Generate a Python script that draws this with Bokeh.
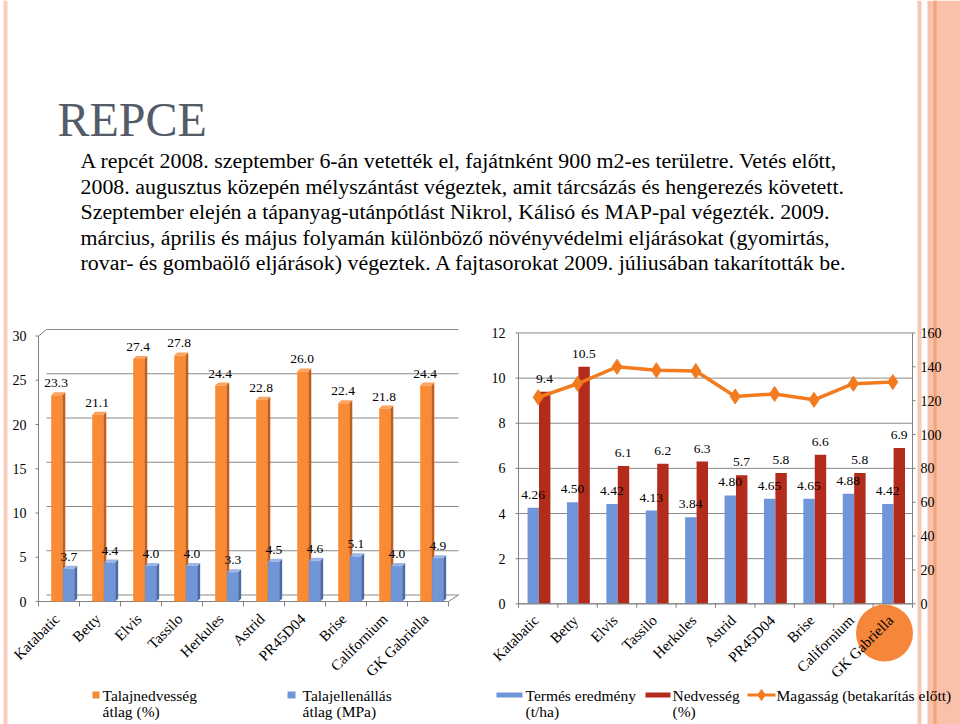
import math
from bokeh.plotting import figure
from bokeh.models import Range1d
from bokeh.embed import file_html
from bokeh.resources import INLINE
from bokeh.core.properties import value

# ---------------- data ----------------
categories = ["Katabatic", "Betty", "Elvis", "Tassilo", "Herkules", "Astrid",
              "PR45D04", "Brise", "Californium", "GK Gabriella"]
talajnedvesseg = [23.3, 21.1, 27.4, 27.8, 24.4, 22.8, 26.0, 22.4, 21.8, 24.4]
talajellenallas = [3.7, 4.4, 4.0, 4.0, 3.3, 4.5, 4.6, 5.1, 4.0, 4.9]
termes = [4.26, 4.50, 4.42, 4.13, 3.84, 4.80, 4.65, 4.65, 4.88, 4.42]
nedvesseg = [9.4, 10.5, 6.1, 6.2, 6.3, 5.7, 5.8, 6.6, 5.8, 6.9]
magassag = [122, 130, 140, 138, 137.5, 122.5, 124, 120.5, 130, 131]
left_ticks = [0, 5, 10, 15, 20, 25, 30]
right_ticks = [0, 2, 4, 6, 8, 10, 12]
right2_ticks = [0, 20, 40, 60, 80, 100, 120, 140, 160]

title = "REPCE"
body_lines = [
    "A repcét 2008. szeptember 6-án vetették el, fajátnként 900 m2-es területre. Vetés előtt,",
    "2008. augusztus közepén mélyszántást végeztek, amit tárcsázás és hengerezés követett.",
    "Szeptember elején a tápanyag-utánpótlást Nikrol, Kálisó és MAP-pal végezték. 2009.",
    "március, április és május folyamán különböző növényvédelmi eljárásokat (gyomirtás,",
    "rovar- és gombaölő eljárások) végeztek. A fajtasorokat 2009. júliusában takarították be.",
]
left_legend = [("Talajnedvesség", "átlag (%)"), ("Talajellenállás", "átlag (MPa)")]
right_legend = [("Termés eredmény", "(t/ha)"), ("Nedvesség", "(%)"),
                ("Magasság (betakarítás előtt)", "")]

# ---------------- styles ----------------
FONT = value("Liberation Serif")
ORANGE, ORANGE_SIDE, ORANGE_TOP = "#F98B35", "#C25E1C", "#FBA35F"
BLUE, BLUE_SIDE, BLUE_TOP = "#7096D8", "#4C6BA6", "#9BB6E6"
R_BLUE, R_RED, LINE_OR = "#7096D9", "#B22B1B", "#F27B20"
GRID = "#8a8a8a"
AXIS = "#808080"

W, H = 960, 724
PL, PR, PT, PB = 0, W, 0, H   # page box of the canvas


def xr(px0, ppu):
    return Range1d(start=(PL - px0) / ppu, end=(PR - px0) / ppu)


def yr(py0, ppu):
    return Range1d(start=(py0 - PB) / ppu, end=(py0 - PT) / ppu)


# left chart geometry
LX0, LXU, LY0, LYU = 38, 41.0, 601, 8.85
WDX, WDY = 8 / LXU, 6.5 / LYU          # 3D wall depth
BDX, BDY = 3 / LXU, 3 / LYU            # bar depth
# right chart geometry
RX0, RXU, RY0, RYU = 518, 39.4, 603.3, 22.57
RY2U = RYU * 12 / 160

p = figure(width=W, height=H, x_range=Range1d(PL, PR), y_range=Range1d(PB, PT),
           output_backend="svg", toolbar_location=None, min_border=0,
           x_axis_type=None, y_axis_type=None, outline_line_color=None,
           background_fill_color="white", border_fill_color="white")
p.extra_x_ranges = {"lx": xr(LX0, LXU), "rx": xr(RX0, RXU)}
p.extra_y_ranges = {"ly": yr(LY0, LYU), "ry": yr(RY0, RYU), "ry2": yr(RY0, RY2U)}
L = dict(x_range_name="lx", y_range_name="ly")
R = dict(x_range_name="rx", y_range_name="ry")
R2 = dict(x_range_name="rx", y_range_name="ry2")

n = len(categories)
idx = list(range(n))

# ---------------- decorations ----------------
p.quad(left=[3], right=[7], bottom=[PB], top=[PT], fill_color="#F9CDBD", line_color=None)
p.quad(left=[917], right=[921], bottom=[PB], top=[PT], fill_color="#F9C8B5", line_color=None)
p.quad(left=[927], right=[PR], bottom=[PB], top=[PT], fill_color="#F9C1A9", line_color=None)
p.quad(left=[933], right=[936], bottom=[PB], top=[PT], fill_color="#F5A274", line_color=None)
p.circle(x=[884], y=[632.5], radius=28.5, fill_color="#F6873A", line_color=None)

# ---------------- left chart (3D columns) ----------------
p.segment(x0=[WDX] * len(left_ticks), y0=[t + WDY for t in left_ticks],
          x1=[n + WDX + 0.05] * len(left_ticks), y1=[t + WDY for t in left_ticks],
          line_color=GRID, line_width=1, **L)
p.segment(x0=[0], y0=[0], x1=[0], y1=[left_ticks[-1]], line_color=AXIS, line_width=1, **L)
p.segment(x0=[0], y0=[left_ticks[-1]], x1=[WDX], y1=[left_ticks[-1] + WDY],
          line_color=AXIS, line_width=1, **L)
p.segment(x0=[-3 / LXU] * len(left_ticks), y0=left_ticks, x1=[0] * len(left_ticks),
          y1=left_ticks, line_color=AXIS, line_width=1, **L)
p.segment(x0=[0, n], y0=[0, 0], x1=[n, n + WDX + 0.05], y1=[0, WDY],
          line_color=AXIS, line_width=1, **L)
p.segment(x0=list(range(n + 1)), y0=[0] * (n + 1), x1=list(range(n + 1)),
          y1=[-5 / LYU] * (n + 1), line_color=AXIS, line_width=1, **L)
p.text(x=[-12 / LXU] * len(left_ticks), y=left_ticks, text=[str(t) for t in left_ticks],
       text_font=FONT, text_font_size="14px", text_align="right", text_baseline="middle",
       text_color="black", **L)


def bar3d(vals, lo, hi, front, side, top):
    xs_s, ys_s, xs_t, ys_t = [], [], [], []
    for i, v in enumerate(vals):
        x0, x1 = i + lo, i + hi
        xs_s.append([x1, x1 + BDX, x1 + BDX, x1])
        ys_s.append([0, BDY, v + BDY, v])
        xs_t.append([x0, x0 + BDX, x1 + BDX, x1])
        ys_t.append([v, v + BDY, v + BDY, v])
    p.patches(xs_s, ys_s, fill_color=side, line_color=None, **L)
    p.patches(xs_t, ys_t, fill_color=top, line_color=None, **L)
    p.quad(left=[i + lo for i in idx], right=[i + hi for i in idx], bottom=[0] * n,
           top=vals, fill_color=front, line_color=None, **L)


bar3d(talajnedvesseg, 0.31, 0.58, ORANGE, ORANGE_SIDE, ORANGE_TOP)
bar3d(talajellenallas, 0.60, 0.87, BLUE, BLUE_SIDE, BLUE_TOP)

p.text(x=[i + 0.43 for i in idx], y=[v + 12 / LYU for v in talajnedvesseg],
       text=[f"{v:.1f}" for v in talajnedvesseg], text_font=FONT, text_font_size="13.5px",
       text_align="center", text_baseline="middle", text_color="black", **L)
p.text(x=[i + 0.74 for i in idx], y=[v + 12 / LYU for v in talajellenallas],
       text=[f"{v:.1f}" for v in talajellenallas], text_font=FONT, text_font_size="13.5px",
       text_align="center", text_baseline="middle", text_color="black", **L)
p.text(x=[i + 0.5 - 2 / LXU for i in idx], y=[-15 / LYU] * n, text=categories,
       angle=math.pi / 4, text_font=FONT, text_font_size="15px", text_align="right",
       text_baseline="middle", text_color="black", **L)

# ---------------- right chart ----------------
p.segment(x0=[0] * len(right_ticks), y0=right_ticks, x1=[n] * len(right_ticks),
          y1=right_ticks, line_color=GRID, line_width=1, **R)
p.quad(left=[i + 0.23 for i in idx], right=[i + 0.52 for i in idx], bottom=[0] * n,
       top=termes, fill_color=R_BLUE, line_color=None, **R)
p.quad(left=[i + 0.52 for i in idx], right=[i + 0.81 for i in idx], bottom=[0] * n,
       top=nedvesseg, fill_color=R_RED, line_color=None, **R)
p.segment(x0=[0, n, 0], y0=[0, 0, 0], x1=[0, n, n], y1=[right_ticks[-1], right_ticks[-1], 0],
          line_color=AXIS, line_width=1, **R)
p.segment(x0=[-3 / RXU] * len(right_ticks), y0=right_ticks, x1=[0] * len(right_ticks),
          y1=right_ticks, line_color=AXIS, line_width=1, **R)
p.segment(x0=[n] * len(right2_ticks), y0=right2_ticks, x1=[n + 3 / RXU] * len(right2_ticks),
          y1=right2_ticks, line_color=AXIS, line_width=1, **R2)
p.segment(x0=list(range(n + 1)), y0=[0] * (n + 1), x1=list(range(n + 1)),
          y1=[-4 / RYU] * (n + 1), line_color=AXIS, line_width=1, **R)
p.text(x=[-13 / RXU] * len(right_ticks), y=right_ticks, text=[str(t) for t in right_ticks],
       text_font=FONT, text_font_size="14px", text_align="right", text_baseline="middle",
       text_color="black", **R)
p.text(x=[n + 8 / RXU] * len(right2_ticks), y=right2_ticks,
       text=[str(t) for t in right2_ticks], text_font=FONT, text_font_size="14px",
       text_align="left", text_baseline="middle", text_color="black", **R2)
p.line(x=[i + 0.5 for i in idx], y=magassag, line_color=LINE_OR, line_width=3.5, **R2)
p.scatter(x=[i + 0.5 for i in idx], y=magassag, marker="diamond", size=15,
          fill_color=LINE_OR, line_color=LINE_OR, **R2)
p.text(x=[i + 0.37 for i in idx], y=[v + 13 / RYU for v in termes],
       text=[f"{v:.2f}" for v in termes], text_font=FONT, text_font_size="13.5px",
       text_align="center", text_baseline="middle", text_color="black", **R)
p.text(x=[i + 0.66 for i in idx], y=[v + 13 / RYU for v in nedvesseg],
       text=[f"{v:.1f}" for v in nedvesseg], text_font=FONT, text_font_size="13.5px",
       text_align="center", text_baseline="middle", text_color="black", **R)
p.text(x=[i + 0.5 - 2 / RXU for i in idx], y=[-14 / RYU] * n, text=categories,
       angle=math.pi / 4, text_font=FONT, text_font_size="15px", text_align="right",
       text_baseline="middle", text_color="black", **R)

# ---------------- title & body text ----------------
p.text(x=[57], y=[119], text=[title], text_font=FONT, text_font_size="48px",
       text_color="#535C68", text_align="left", text_baseline="middle")
p.text(x=[80] * len(body_lines), y=[160 + 25.5 * j for j in range(len(body_lines))],
       text=body_lines, text_font=FONT, text_font_size="21.9px", text_color="black",
       text_align="left", text_baseline="middle")

# ---------------- legends ----------------
LEG = dict(text_font=FONT, text_font_size="15.5px", text_color="black",
           text_align="left", text_baseline="middle")
p.quad(left=[92, 287], right=[99, 295], top=[691, 691], bottom=[698, 698],
       fill_color=[ORANGE, BLUE], line_color=None)
p.text(x=[102, 102, 302, 302], y=[695, 711, 695, 711],
       text=[left_legend[0][0], left_legend[0][1], left_legend[1][0], left_legend[1][1]], **LEG)

p.quad(left=[496, 645], right=[522, 670], top=[692, 692], bottom=[697, 697],
       fill_color=[R_BLUE, R_RED], line_color=None)
p.line(x=[747, 775], y=[694.5, 694.5], line_color=LINE_OR, line_width=3)
p.scatter(x=[761], y=[694.5], marker="diamond", size=11, fill_color=LINE_OR, line_color=LINE_OR)
p.text(x=[525, 525, 672, 672, 776], y=[695, 711, 695, 711, 695],
       text=[right_legend[0][0], right_legend[0][1], right_legend[1][0], right_legend[1][1],
             right_legend[2][0]], **LEG)

open("out.html", "w").write(file_html(p, INLINE))
